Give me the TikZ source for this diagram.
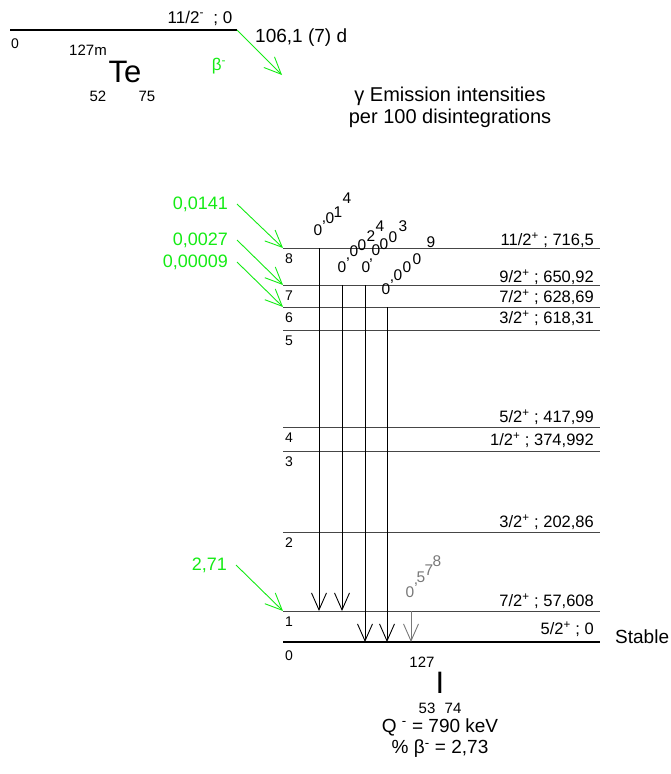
\documentclass[tikz,border=0pt]{standalone}
\usepackage{fontspec}
\setmainfont{Liberation Sans}
\usetikzlibrary{arrows.meta}
\definecolor{emgreen}{RGB}{20,235,20}
\definecolor{levgray}{RGB}{70,70,70}
\definecolor{dimgray}{RGB}{120,120,120}
\begin{document}
\begin{tikzpicture}[x=1pt, y=-1pt,
    >={Straight Barb[length=17pt,width=15pt]},
    lev/.style={levgray, line width=1pt},
    gnd/.style={black, line width=2.4pt},
    gam/.style={->, black, line width=0.9pt},
    feed/.style={->, emgreen, line width=0.9pt},
    txt/.style={font=\fontsize{15}{18}\selectfont, inner sep=0pt},
    mid/.style={font=\fontsize{17}{20}\selectfont, inner sep=0pt},
    big/.style={font=\fontsize{19}{22}\selectfont, inner sep=0pt},
    huge/.style={font=\fontsize{31}{34}\selectfont, inner sep=0pt},
    num/.style={font=\fontsize{14}{16}\selectfont, inner sep=0pt, anchor=west},
    spin/.style={font=\fontsize{16.5}{19}\selectfont, inner sep=0pt, anchor=east},
    ich/.style={font=\fontsize{15.5}{17}\selectfont, inner sep=0pt, text height=1.6ex, text depth=0pt},
    icomma/.style={font=\fontsize{15.5}{17}\selectfont, inner sep=0pt, text height=0.5ex, text depth=0pt},
    gtxt/.style={font=\fontsize{18}{20}\selectfont, emgreen, inner sep=0pt, outer sep=9pt, anchor=east}]

  \useasboundingbox (0,0) rectangle (670,774);

  % parent level
  \coordinate (tL) at (10,30);
  \coordinate (tR) at (237,30);
  \draw[line width=2.6pt] (tL) -- (tR);
  \node[mid] (tspin) at (200,18) {11/2\textsuperscript{-}\ \ ;\ 0};
  \node[num] (t0) at (11,44) {0};
  \node[txt] (tA) at (88,50) {127m};
  \node[huge] (tTe) at (125,72) {Te};
  \node[txt] (tZ) at (98,96) {52};
  \node[txt] (tN) at (147,96) {75};
  \node[big, anchor=west] (thalf) at (255,38) {106,1 (7) d};
  \coordinate (bt) at (282,75);
  \draw[feed] (tR) -- (bt);
  \node[mid, emgreen] (tbeta) at (219,66) {β\textsuperscript{-}};

  \node[font=\fontsize{20}{24}\selectfont, inner sep=0pt] (head1) at (450,96) {γ Emission intensities};
  \node[font=\fontsize{20}{24}\selectfont, inner sep=0pt] (head2) at (450,118) {per 100 disintegrations};

  % daughter levels
  \foreach \n/\y in {8/248, 7/285, 6/307, 5/330, 4/427, 3/451, 2/532, 1/611}{
    \coordinate (L\n) at (283,\y);
    \coordinate (R\n) at (600,\y);
    \draw[lev] (L\n) -- (R\n);
    \node[num] (n\n) at (285,\y+11) {\n};
  }
  \coordinate (L0) at (283,642);
  \coordinate (R0) at (600,642);
  \draw[gnd] (L0) -- (R0);
  \node[num] (n0) at (285,656) {0};
  \node[big, anchor=west] (stab) at (615,637) {Stable};

  \node[spin] (s8) at (594,240) {11/2\textsuperscript{+} ; 716,5};
  \node[spin] (s7) at (594,277) {9/2\textsuperscript{+} ; 650,92};
  \node[spin] (s6) at (594,297) {7/2\textsuperscript{+} ; 628,69};
  \node[spin] (s5) at (594,318) {3/2\textsuperscript{+} ; 618,31};
  \node[spin] (s4) at (594,417) {5/2\textsuperscript{+} ; 417,99};
  \node[spin] (s3) at (594,440) {1/2\textsuperscript{+} ; 374,992};
  \node[spin] (s2) at (594,522) {3/2\textsuperscript{+} ; 202,86};
  \node[spin] (s1) at (594,601) {7/2\textsuperscript{+} ; 57,608};
  \node[spin] (s0) at (594,629) {5/2\textsuperscript{+} ; 0};

  % gamma transitions
  \foreach \x/\a/\b [count=\k] in {319/248/611, 342/285/611, 365/285/642, 387/307/642}{
    \coordinate (gt\k) at (\x,\a);
    \coordinate (gb\k) at (\x,\b);
    \draw[gam] (gt\k) -- (gb\k);
  }
  \coordinate (gt5) at (411,611);
  \coordinate (gb5) at (411,642);
  \draw[gam, dimgray] (gt5) -- (gb5);

  % intensities, set letter by letter
  \foreach \px/\py/\s [count=\k] in {
      318/231/0, 330/219/0, 338/213/1, 347/199/4,
      342/268/0, 354/252/0, 362/246/0, 371/237/2, 380/227/4,
      366/268/0, 376/251/0, 384/245/0, 393/238/0, 403/227/3,
      386/290/0, 398/276/0, 407/268/0, 417/260/0, 431/243/9}
    \node[ich] (c\k) at (\px,\py) {\s};
  \foreach \px/\py [count=\k] in {324/221, 348/258, 371/259, 392/280}
    \node[icomma] (k\k) at (\px,\py) {,};
  \foreach \px/\py/\s [count=\k] in {
      410/593/0, 421/578/5, 429/571/7, 437/562/8}
    \node[ich, dimgray] (e\k) at (\px,\py) {\s};
  \node[icomma, dimgray] (ek) at (416,583) {,};

  % beta feedings
  \node[gtxt] (f8) at (237,204) {0,0141};
  \node[gtxt] (f7) at (237,240) {0,0027};
  \node[gtxt] (f6) at (237,262) {0,00009};
  \node[gtxt] (f1) at (236,565) {2,71};
  \draw[feed] (f8.east) -- (L8);
  \draw[feed] (f7.east) -- (L7);
  \draw[feed] (f6.east) -- (L6);
  \draw[feed] (f1.east) -- (L1);

  % daughter nucleus
  \node[txt] (dA) at (422,662) {127};
  \node[huge] (dI) at (440,683) {I};
  \node[txt] (dZ) at (427,708) {53};
  \node[txt] (dN) at (453,708) {74};
  \node[big] (dQ) at (440,727) {Q \textsuperscript{-} = 790 keV};
  \node[big] (dP) at (440,749) {\% β\textsuperscript{-} = 2,73};
\end{tikzpicture}
\end{document}
